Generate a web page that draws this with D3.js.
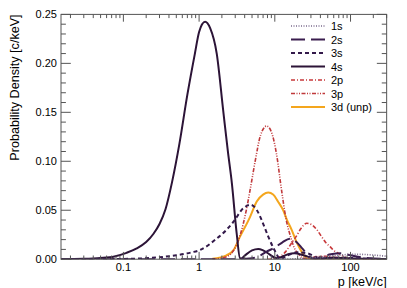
<!DOCTYPE html>
<html><head><meta charset="utf-8">
<script src="https://cdn.jsdelivr.net/npm/d3@7"></script>
<style>body{margin:0;background:#fff}svg{display:block}text{font-family:"Liberation Sans",Arial,sans-serif}</style>
</head><body><svg id="c" width="407" height="288"></svg>
<script>
const xTickLabels=["0.1","1","10","100"];
const yTickLabels=["0.00","0.05","0.10","0.15","0.20","0.25"];
const seriesNames=["1s","2s","3s","4s","2p","3p","3d (unp)"];
const s1s=[[10,0],[20,0.0005],[30,0.0015],[50,0.003],[80,0.0045],[120,0.005],[180,0.0045],[300,0.003]];
const s2s=[[0.015,0],[3,0],[5,0.001],[6.5,0.004],[7.8,0.0077],[10,0.012],[12.5,0.017],[15.8,0.021],[19,0.018],[23,0.011],[27.4,0.004],[31,0.001],[34,0.0003],[40,0.002],[55,0.005],[75,0.006],[100,0.004],[150,0.0015],[300,0.0002]];
const s3s=[[0.015,0],[0.1,0.0003],[0.3,0.002],[0.5,0.004],[0.8,0.007],[1.03,0.0094],[1.7,0.021],[2.3,0.03],[2.83,0.038],[3.83,0.052],[4.8,0.0555],[5.8,0.05],[6.7,0.04],[8.2,0.023],[9.5,0.012],[10.6,0.005],[11.5,0.0005],[12.5,0.001],[15,0.004],[20,0.007],[27,0.006],[35,0.002],[40,0.0004],[55,0.001],[80,0.0015],[130,0.0008],[300,0.0001]];
const s4s=[[0.015,0.0001],[0.03,0.0004],[0.05,0.0012],[0.076,0.0028],[0.11,0.0065],[0.15,0.011],[0.2,0.0175],[0.25,0.026],[0.3,0.036],[0.36,0.051],[0.44,0.079],[0.55,0.118],[0.7,0.168],[0.88,0.21],[1.0,0.232],[1.2,0.2425],[1.4,0.236],[1.71,0.21],[2.08,0.152],[2.4,0.11],[2.71,0.0775],[3.14,0.026],[3.47,0.001],[3.6,0.0008],[4.05,0.004],[5,0.009],[6.06,0.0105],[7,0.009],[8.5,0.005],[10,0.0015],[10.8,0.0008],[12,0.002],[15,0.005],[18,0.006],[24,0.004],[32,0.001],[35,0.0005],[45,0.001],[60,0.0015],[90,0.001],[150,0.0004],[300,0.0001]];
const s2p=[[8,0],[10,0.0008],[11.7,0.0026],[14,0.008],[16.5,0.016],[19.1,0.023],[22,0.031],[26.4,0.0367],[31,0.035],[36,0.03],[41.5,0.023],[47,0.017],[53.6,0.0128],[60,0.009],[69,0.006],[80,0.003],[89,0.0012],[110,0.0003],[150,0],[300,0]];
const s3p=[[1.5,0],[2.2,0.002],[2.8,0.008],[3.5,0.025],[4.2,0.05],[4.7,0.07],[5.5,0.1],[6.5,0.127],[7.8,0.136],[9,0.13],[10.5,0.108],[12.3,0.07],[14,0.042],[16,0.024],[18,0.012],[20,0.006],[23,0.0015],[26,0.0005],[32,0.002],[45,0.003],[70,0.0015],[120,0.0003],[300,0]];
const s3d=[[1.5,0.0005],[2.3,0.004],[2.83,0.009],[3.47,0.023],[4.7,0.043],[5.77,0.059],[7,0.066],[8.2,0.068],[9.5,0.066],[11,0.059],[12.9,0.05],[14.5,0.04],[16.7,0.03],[19,0.019],[21.4,0.011],[25,0.0025],[30,0.0005],[40,0],[300,0]];

const styles=[
 {c:"#7a6a8c",d:"1 1.5",w:1.6},
 {c:"#3a1d4e",d:"14 6",w:2},
 {c:"#33194a",d:"4 3",w:2},
 {c:"#2c1437",d:null,w:2},
 {c:"#c8393b",d:"4 2 1 2",w:1.6},
 {c:"#c0393b",d:"4 1.5 1 1.5 1 1.5",w:1.6},
 {c:"#f4a61d",d:null,w:2}
];
const data=[s1s,s2s,s3s,s4s,s2p,s3p,s3d];

const L=61,R=386.65,T=14.4,B=259.2;
const svg=d3.select("#c");
const x=d3.scaleLog().domain([0.015,300]).range([L,R]);
const y=d3.scaleLinear().domain([0,0.25]).range([B,T]);

svg.append("defs").append("clipPath").attr("id","clip").append("rect")
 .attr("x",L).attr("y",T).attr("width",R-L).attr("height",B-T);

const line=d3.line().x(d=>x(d[0])).y(d=>y(d[1])).curve(d3.curveMonotoneX);
const g=svg.append("g").attr("clip-path","url(#clip)");
const order=[6,5,4,3,2,1,0];
order.forEach(i=>{
 g.append("path").attr("d",line(data[i])).attr("fill","none")
  .attr("stroke",styles[i].c).attr("stroke-width",styles[i].w)
  .attr("stroke-dasharray",styles[i].d).attr("stroke-linejoin","round");
});

const ax="#555";
svg.append("rect").attr("x",L).attr("y",T).attr("width",R-L).attr("height",B-T)
 .attr("fill","none").attr("stroke",ax).attr("stroke-width",1);

const majX=[0.1,1,10,100];
const minX=[];
for(let e=-2;e<=2;e++){for(let m=2;m<=9;m++){const v=m*Math.pow(10,e);if(v>=0.015&&v<=300)minX.push(v);}}
const tk=svg.append("g").attr("stroke",ax).attr("stroke-width",1);
majX.forEach(v=>{const px=x(v);
 tk.append("line").attr("x1",px).attr("x2",px).attr("y1",B).attr("y2",B-7.3);
 tk.append("line").attr("x1",px).attr("x2",px).attr("y1",T).attr("y2",T+7.3);});
minX.forEach(v=>{const px=x(v);
 tk.append("line").attr("x1",px).attr("x2",px).attr("y1",B).attr("y2",B-3.7);
 tk.append("line").attr("x1",px).attr("x2",px).attr("y1",T).attr("y2",T+3.7);});
d3.range(0,26).forEach(i=>{const py=y(i*0.01);const len=(i%5===0)?9.8:4.9;
 tk.append("line").attr("x1",L).attr("x2",L+len).attr("y1",py).attr("y2",py);
 tk.append("line").attr("x1",R).attr("x2",R-len).attr("y1",py).attr("y2",py);});

majX.forEach((v,i)=>{svg.append("text").attr("x",x(v)).attr("y",271).attr("text-anchor","middle")
 .attr("font-size",11).attr("fill","#000").text(xTickLabels[i]);});
yTickLabels.forEach((t,i)=>{svg.append("text").attr("x",57).attr("y",y(i*0.05)+4).attr("text-anchor","end")
 .attr("font-size",11).attr("fill","#000").text(t);});
svg.append("text").attr("x",R).attr("y",285.5).attr("text-anchor","end").attr("font-size",12.6).text("p [keV/c]");
svg.append("text").attr("transform","translate(19,"+T+") rotate(-90)").attr("text-anchor","end")
 .attr("font-size",12.6).text("Probability Density [c/keV]");

const leg=svg.append("g");
seriesNames.forEach((n,i)=>{const ly=26+i*13.5;
 leg.append("line").attr("x1",291).attr("x2",325).attr("y1",ly).attr("y2",ly)
  .attr("stroke",styles[i].c).attr("stroke-width",styles[i].w).attr("stroke-dasharray",styles[i].d);
 leg.append("text").attr("x",331).attr("y",ly+4).attr("font-size",11).text(n);});
</script></body></html>
